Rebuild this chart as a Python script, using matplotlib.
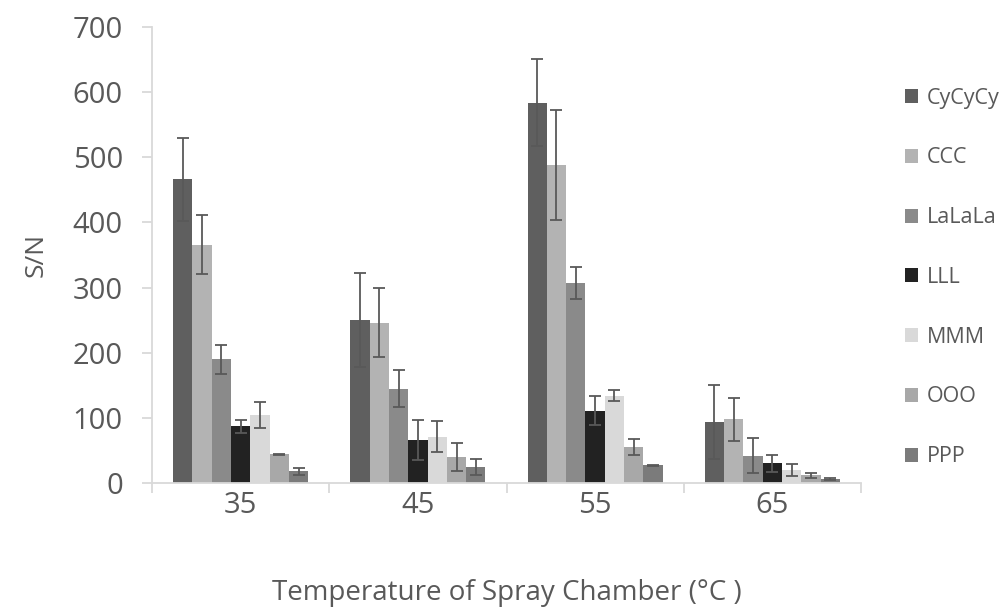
import numpy as np
import matplotlib
matplotlib.use("Agg")
import matplotlib.pyplot as plt

plt.rcParams["font.family"] = ["Open Sans", "DejaVu Sans"]

temps = ["35", "45", "55", "65"]
series = ["CyCyCy", "CCC", "LaLaLa", "LLL", "MMM", "OOO", "PPP"]
colors = ["#5f5f5f", "#b3b3b3", "#8a8a8a", "#222222", "#d9d9d9", "#a8a8a8", "#7b7b7b"]

# S/N values per series, one entry per temperature
values = [
    [466, 250, 584, 94],    # CyCyCy
    [366, 246, 488, 98],    # CCC
    [190, 145, 307, 42],    # LaLaLa
    [87, 66, 111, 30],      # LLL
    [105, 71, 134, 20],     # MMM
    [44, 40, 55, 12],       # OOO
    [18, 25, 27, 6],        # PPP
]
errors = [
    [64, 72, 67, 57],
    [45, 53, 84, 33],
    [22, 29, 25, 27],
    [10, 31, 22, 13],
    [20, 24, 8, 9],
    [1, 22, 12, 4],
    [5, 12, 1, 1],
]

text_color = "#595959"
axis_color = "#d9d9d9"

fig = plt.figure(figsize=(10.08, 6.07), dpi=100)
ax = fig.add_axes([152 / 1008, 1 - 483 / 607, 709 / 1008, 456 / 607])

x = np.arange(len(temps))
n = len(series)
width = 0.109
for i, (name, col) in enumerate(zip(series, colors)):
    pos = x + (i - (n - 1) / 2) * width
    ax.bar(pos, values[i], width, color=col, label=name, zorder=2)
    ax.errorbar(pos, values[i], yerr=errors[i], fmt="none", ecolor="#595959",
                elinewidth=1.3, capsize=4.3, capthick=1.3, zorder=3)

ax.set_xlim(-0.5, len(temps) - 0.5)
ax.set_ylim(0, 700)
ax.set_yticks(range(0, 701, 100))
ax.set_xticks(x)
ax.set_xticklabels(temps)
ax.set_xticks(np.arange(-0.5, len(temps), 1), minor=True)
ax.tick_params(axis="x", which="major", length=0, pad=6)
ax.tick_params(axis="x", which="minor", length=7, width=1.3, color=axis_color)
ax.tick_params(axis="y", length=7, width=1.3, color=axis_color, pad=14)
ax.tick_params(labelsize=21, labelcolor=text_color)

for side in ["top", "right"]:
    ax.spines[side].set_visible(False)
for side in ["left", "bottom"]:
    ax.spines[side].set_color(axis_color)
    ax.spines[side].set_linewidth(1.3)

ax.set_ylabel("S/N", fontsize=19, color=text_color, labelpad=17)
ax.set_xlabel("Temperature of Spray Chamber (°C )", fontsize=20,
              color=text_color, labelpad=42)

ax.legend(loc="upper left", bbox_to_anchor=(896 / 1008, 1 - 79 / 607),
          bbox_transform=fig.transFigure, frameon=False, fontsize=15.5,
          labelcolor=text_color, handlelength=0.62, handleheight=0.62,
          handletextpad=0.4, labelspacing=1.8, borderaxespad=0)

fig.savefig("out.png", dpi=100)
